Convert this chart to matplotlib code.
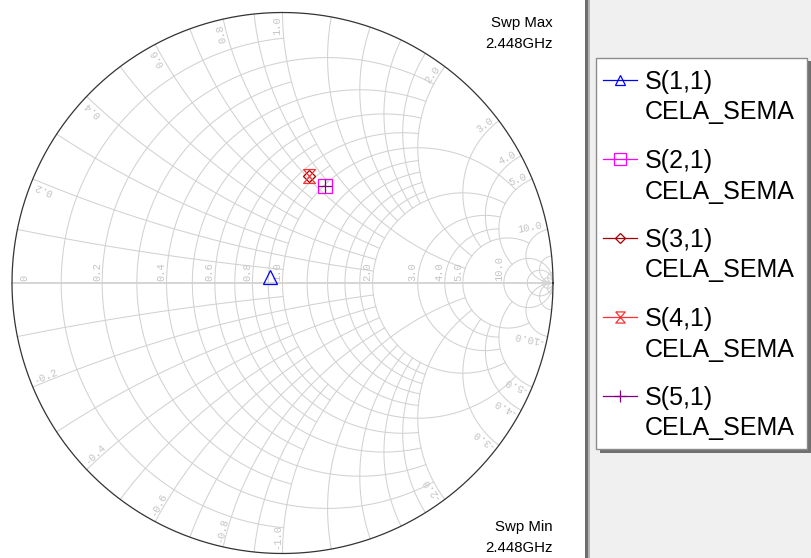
import numpy as np
import matplotlib
matplotlib.use('Agg')
import matplotlib.pyplot as plt
from matplotlib.patches import Rectangle
from matplotlib.path import Path

# Reflection coefficients at the single sweep point (2.448 GHz)
trace_names = ['S(1,1)', 'S(2,1)', 'S(3,1)', 'S(4,1)', 'S(5,1)']
trace_doc = ['CELA_SEMA', 'CELA_SEMA', 'CELA_SEMA', 'CELA_SEMA', 'CELA_SEMA']
gamma_re = [-0.048, 0.157, 0.098, 0.098, 0.157]
gamma_im = [0.022, 0.359, 0.396, 0.396, 0.359]
trace_colors = ['#0000ff', '#ff00ff', '#a00000', '#ff3030', '#800080']
sweep_max = '2.448GHz'
sweep_min = '2.448GHz'

# Smith grid: constant-r circles and constant-x arcs, each cut off at a limit
r_values = [0.1, 0.2, 0.3, 0.4, 0.5, 0.6, 0.7, 0.8, 0.9, 1.0,
            1.2, 1.4, 1.6, 1.8, 2.0, 3.0, 4.0, 5.0, 10.0, 20.0, 50.0]
r_limits = [1, 2, 1, 2, 1, 2, 1, 2, 1, 5,
            2, 2, 2, 2, 5, 5, 5, 10, np.inf, np.inf, np.inf]
x_values = [0.1, 0.2, 0.3, 0.4, 0.5, 0.6, 0.7, 0.8, 0.9, 1.0,
            1.2, 1.4, 1.6, 1.8, 2.0, 3.0, 4.0, 5.0, 10.0, 20.0, 50.0]
x_limits = [1, 2, 1, 2, 1, 2, 1, 2, 1, 5,
            2, 2, 2, 2, 5, 5, 5, 10, np.inf, np.inf, np.inf]

axis_labels = [0.0, 0.2, 0.4, 0.6, 0.8, 1.0, 2.0, 3.0, 4.0, 5.0, 10.0]
rim_labels = [0.2, 0.4, 0.6, 0.8, 1.0, 2.0, 3.0, 4.0, 5.0, 10.0]

GRID = '#d2d2d2'
LABEL = '#c4c4c4'
W, H = 812, 558


def z2g(z):
    return (z - 1) / (z + 1)


def upto(limit, n=500):
    top = np.pi / 2 - 1e-4 if np.isinf(limit) else np.arctan(limit)
    return np.tan(np.linspace(0, top, n))


fig = plt.figure(figsize=(W / 100, H / 100), dpi=100)
fig.patch.set_facecolor('white')

# pixel-space layer for the side panel, legend and sweep text
bg = fig.add_axes([0, 0, 1, 1])
bg.set_xlim(0, W)
bg.set_ylim(H, 0)
bg.axis('off')

bg.add_patch(Rectangle((585, 0), 3, H, color='#6e6e6e', lw=0))
bg.add_patch(Rectangle((588, 0), 2, H, color='#b4b4b4', lw=0))
bg.add_patch(Rectangle((590, 0), W - 590, H, color='#f0f0f0', lw=0))
bg.add_patch(Rectangle((600, 61), 211, 392, color='#707070', lw=0))
bg.add_patch(Rectangle((596.5, 57.5), 210.5, 391.5, facecolor='white',
                       edgecolor='#8c8c8c', lw=1))

txt = dict(family='Liberation Sans', color='black')
bg.text(553, 27, 'Swp Max', ha='right', va='baseline', fontsize=10.8, **txt)
bg.text(553, 48, sweep_max, ha='right', va='baseline', fontsize=10.8, **txt)
bg.text(553, 531, 'Swp Min', ha='right', va='baseline', fontsize=10.8, **txt)
bg.text(553, 552, sweep_min, ha='right', va='baseline', fontsize=10.8, **txt)

hourglass = Path([(-0.85, 1), (0.85, 1), (-0.85, -1), (0.85, -1), (-0.85, 1)],
                 [Path.MOVETO, Path.LINETO, Path.LINETO, Path.LINETO, Path.LINETO])
markers = ['^', 's', 'D', hourglass, '+']
sizes = [9.5, 10, 6.5, 10, 10]

for i, name in enumerate(trace_names):
    base = 89 + 79 * i
    bg.plot([603, 637], [base - 9, base - 9], color=trace_colors[i], lw=0.9)
    bg.plot([620], [base - 9], ls='none', marker=markers[i],
            ms=sizes[i] * 0.8, mfc='none', mec=trace_colors[i], mew=0.9)
    bg.text(645, base, name, ha='left', va='baseline', fontsize=18, **txt)
    bg.text(645, base + 30.5, trace_doc[i], ha='left', va='baseline',
            fontsize=18, **txt)

# Smith chart in reflection-coefficient coordinates
cx, cy, R = 282.5, 283.0, 270.5
ax = fig.add_axes([(cx - R) / W, (H - cy - R) / H, 2 * R / W, 2 * R / H])
ax.set_xlim(-1, 1)
ax.set_ylim(-1, 1)
ax.axis('off')

for r, lim in zip(r_values, r_limits):
    top = np.pi / 2 - 1e-4 if np.isinf(lim) else np.arctan(lim)
    xs = np.tan(np.linspace(-top, top, 800))
    g = z2g(r + 1j * xs)
    ax.plot(g.real, g.imag, color=GRID, lw=0.75, clip_on=False)

for x, lim in zip(x_values, x_limits):
    rs = upto(lim)
    for sgn in (1, -1):
        g = z2g(rs + 1j * sgn * x)
        ax.plot(g.real, g.imag, color=GRID, lw=0.75, clip_on=False)

ax.plot([-1, 1], [0, 0], color=GRID, lw=1.3, clip_on=False)
th = np.linspace(0, 2 * np.pi, 1000)
ax.plot(np.cos(th), np.sin(th), color='#333333', lw=0.9, clip_on=False)

lab = dict(family='Liberation Mono', fontsize=7.5, color=LABEL,
           rotation_mode='anchor')
for r in axis_labels:
    gx = z2g(r).real if r > 0 else -0.935
    s = '0' if r == 0 else '%.1f' % r
    ax.text(gx, 0.006, s, rotation=90, ha='left', va='bottom', **lab)

for x in rim_labels:
    s = '%.1f' % x
    theta = np.degrees(np.angle(z2g(1j * x)))
    gx, gy = 0.985 * np.cos(np.radians(theta)), 0.985 * np.sin(np.radians(theta))
    ax.text(gx, gy, s, rotation=theta, ha='right', va='bottom', **lab)
    ax.text(gx, -gy, '-' + s, rotation=180 - theta, ha='left', va='bottom', **lab)

for i in range(len(trace_names)):
    ax.plot([gamma_re[i]], [gamma_im[i]], ls='none', marker=markers[i],
            ms=sizes[i], mfc='none', mec=trace_colors[i], mew=0.9, zorder=5)

fig.savefig('out.png', dpi=100)
